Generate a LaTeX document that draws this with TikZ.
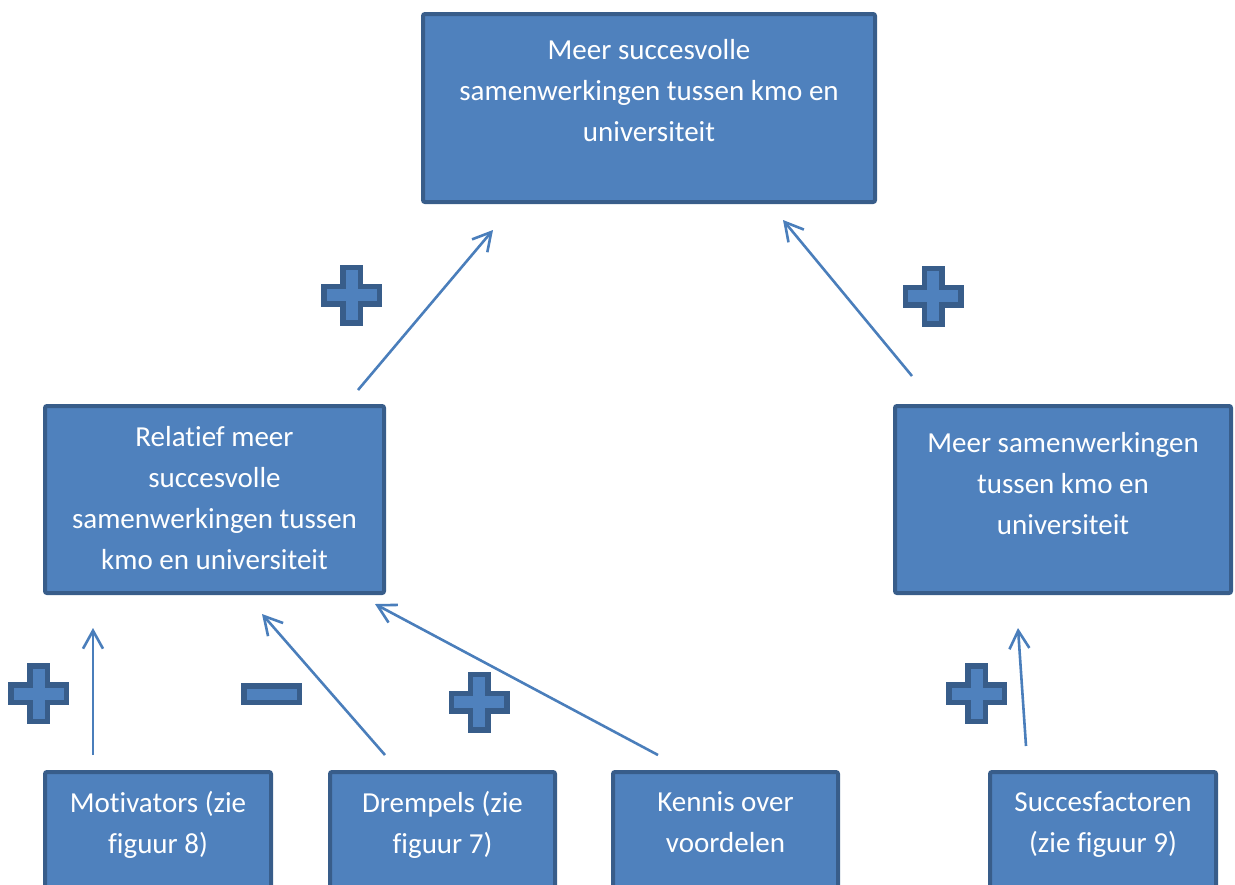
\documentclass[tikz,border=0pt]{standalone}
\usepackage{fontspec}
\setmainfont{Carlito}[Ligatures={NoCommon}]
\usepackage{xcolor}
\usetikzlibrary{positioning,arrows.meta}
\definecolor{boxblue}{HTML}{4F81BD}
\definecolor{boxedge}{HTML}{385D8A}
\definecolor{arrowblue}{HTML}{4A7EBB}

\begin{document}
\begin{tikzpicture}[x=0.5pt, y=-0.5pt,
  box/.style={draw=boxedge, fill=boxblue, line width=2pt, rounded corners=1pt, inner sep=0pt},
  txt/.style={text=white, align=center, inner sep=0pt, font=\fontsize{14.5pt}{20.5pt}\selectfont},
  link/.style={draw=arrowblue, line width=1.3pt, -{Straight Barb[length=9pt,width=10pt]}},
  sign/.style={draw=boxedge, fill=boxblue, line width=2.75pt}]
\useasboundingbox (0,0) rectangle (1235,884);
\clip (0,0) rectangle (1235,884);
\def\armh{8.75}
\def\armw{27.75}

% Top box
\node[box, minimum width=226pt, minimum height=94pt] (goal) at (649,108) {};
\node[txt, below=13.5pt of goal.north] (goaltext) {Meer succesvolle\\samenwerkingen tussen kmo en\\universiteit};

% Middle boxes
\node[box, minimum width=169.5pt, minimum height=93.5pt] (relative) at (214.5,499.5) {};
\node[txt, below=11pt of relative.north] (relativetext) {Relatief meer\\succesvolle\\samenwerkingen tussen\\kmo en universiteit};
\node[box, minimum width=168pt, minimum height=93.5pt] (more) at (1063,499.5) {};
\node[txt, below=14pt of more.north] (moretext) {Meer samenwerkingen\\tussen kmo en\\universiteit};

% Bottom boxes (cut off by the page)
\node[box, minimum width=113pt, minimum height=75pt] (motiv) at (158,847) {};
\node[txt, below=10.5pt of motiv.north] (motivtext) {Motivators (zie\\figuur 8)};
\node[box, minimum width=112.5pt, minimum height=75pt] (thresh) at (442.5,847) {};
\node[txt, below=10.5pt of thresh.north] (threshtext) {Drempels (zie\\figuur 7)};
\node[box, minimum width=112.5pt, minimum height=75pt] (know) at (725.5,847) {};
\node[txt, below=10.5pt of know.north] (knowtext) {Kennis over\\voordelen};
\node[box, minimum width=113pt, minimum height=75pt] (factors) at (1103,847) {};
\node[txt, below=10.5pt of factors.north] (factorstext) {Succesfactoren\\(zie figuur 9)};

% Arrow ends
\coordinate (a1s) at (358,390);  \coordinate (a1e) at (493,230);
\coordinate (a2s) at (912,376);  \coordinate (a2e) at (783,220);
\coordinate (a3s) at (93,755);   \coordinate (a3e) at (93,628);
\coordinate (a4s) at (385,755);  \coordinate (a4e) at (262,614);
\coordinate (a5s) at (658,755);  \coordinate (a5e) at (375,604);
\coordinate (a6s) at (1026,746); \coordinate (a6e) at (1018,628);

% Arrows
\draw[link] (a1s) -- (a1e);
\draw[link] (a2s) -- (a2e);
\draw[link] (a3s) -- (a3e);
\draw[link] (a4s) -- (a4e);
\draw[link] (a5s) -- (a5e);
\draw[link] (a6s) -- (a6e);

% Plus signs
\foreach \cx/\cy in {351.5/295, 933/296, 38.5/693.5, 479/702, 976.5/693.5}
  \draw[sign] (\cx-\armh,\cy-\armw) -- (\cx+\armh,\cy-\armw) -- (\cx+\armh,\cy-\armh) -- (\cx+\armw,\cy-\armh)
    -- (\cx+\armw,\cy+\armh) -- (\cx+\armh,\cy+\armh) -- (\cx+\armh,\cy+\armw) -- (\cx-\armh,\cy+\armw)
    -- (\cx-\armh,\cy+\armh) -- (\cx-\armw,\cy+\armh) -- (\cx-\armw,\cy-\armh) -- (\cx-\armh,\cy-\armh) -- cycle;

% Minus sign
\draw[sign] (271.5-\armw,694-8.25) rectangle (271.5+\armw,694+8.25);

\end{tikzpicture}
\end{document}
